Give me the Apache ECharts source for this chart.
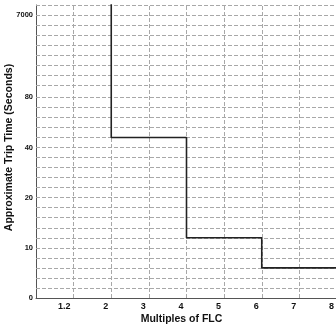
<!DOCTYPE html>
<html>
<head>
<meta charset="utf-8">
<script src="https://cdn.jsdelivr.net/npm/echarts@6/dist/echarts.min.js"></script>
<style>html,body{margin:0;padding:0;background:#fff}#c{width:336px;height:327px}</style>
</head>
<body>
<div id="c"></div>
<script>
// ---- data ----
const multiples = ['1', '1.2', '2', '3', '4', '5', '6', '7', '8'];
const stepMultiples = ['2', '4', '6', '8'];
const tripTimes = [10000, 48, 12, 6];
const yTickValues = [0, 10, 20, 40, 80, 7000];
const yTickLabels = ['0', '10', '20', '40', '80', '7000'];

// ---- piecewise paper scale (grid units) ----
const yTickUnits = [0, 5, 10, 15, 20, 28.2];
const yMaxUnit = 29.2;
function toUnit(v) {
  for (let i = 0; i < yTickValues.length - 1; i++) {
    const a = yTickValues[i], b = yTickValues[i + 1];
    if (v <= b || i === yTickValues.length - 2) {
      return yTickUnits[i] + (v - a) / (b - a) * (yTickUnits[i + 1] - yTickUnits[i]);
    }
  }
}
const gridUnits = [];
for (let u = 1; u <= 20; u++) gridUnits.push(u);
for (let u = 21.2; u <= yMaxUnit + 0.001; u += 1) gridUnits.push(+u.toFixed(1));

const gridStyle = {color: '#a8a8a8', type: [4, 2], width: 1};
const chart = echarts.init(document.getElementById('c'), null, {renderer: 'canvas'});
const bold = {fontFamily: 'Liberation Sans, Arial, sans-serif', fontWeight: 'bold', color: '#111'};
chart.setOption({
  animation: false,
  grid: {left: 36, right: -1, top: 5, bottom: 29, containLabel: false, outerBoundsMode: 'none'},
  xAxis: {
    type: 'category',
    data: multiples,
    boundaryGap: false,
    axisLine: {lineStyle: {color: '#555', width: 1}},
    axisTick: {show: false},
    axisLabel: Object.assign({}, bold, {
      fontSize: 9, margin: 4, align: 'right', padding: [0, 3, 0, 0], interval: 0,
      formatter: (v, i) => i === 0 ? '' : v
    }),
    splitLine: {show: false},
    name: 'Multiples of FLC',
    nameLocation: 'middle',
    nameGap: 16,
    nameMoveOverlap: false,
    nameTextStyle: Object.assign({}, bold, {fontSize: 10.5, padding: [0, 10, 0, 0]})
  },
  yAxis: {
    type: 'value',
    min: 0,
    max: yMaxUnit,
    axisLine: {show: true, lineStyle: {color: '#555', width: 1}},
    axisTick: {show: false},
    splitLine: {show: false},
    axisLabel: Object.assign({}, bold, {
      fontSize: 7.5, margin: 3, verticalAlign: 'middle', padding: [0, 0, 8, 0],
      customValues: yTickUnits,
      formatter: (v) => {
        const i = yTickUnits.findIndex(u => Math.abs(u - v) < 1e-6);
        return i >= 0 ? yTickLabels[i] : '';
      }
    }),
    name: 'Approximate Trip Time (Seconds)',
    nameLocation: 'middle',
    nameGap: 21,
    nameMoveOverlap: false,
    nameTextStyle: Object.assign({}, bold, {fontSize: 10.5, padding: [0, 0, 0, 8]})
  },
  series: [
    {
      type: 'line',
      data: [],
      silent: true,
      z: 1,
      markLine: {
        silent: true,
        symbol: 'none',
        label: {show: false},
        animation: false,
        lineStyle: gridStyle,
        data: gridUnits.map(u => ({yAxis: u}))
          .concat(multiples.slice(1).map(m => ({xAxis: m})))
      }
    },
    {
      type: 'line',
      step: 'start',
      z: 5,
      symbol: 'none',
      clip: true,
      lineStyle: {color: '#222', width: 1.6},
      data: stepMultiples.map((m, i) => [m, toUnit(tripTimes[i])])
    }
  ]
});
</script>
</body>
</html>
